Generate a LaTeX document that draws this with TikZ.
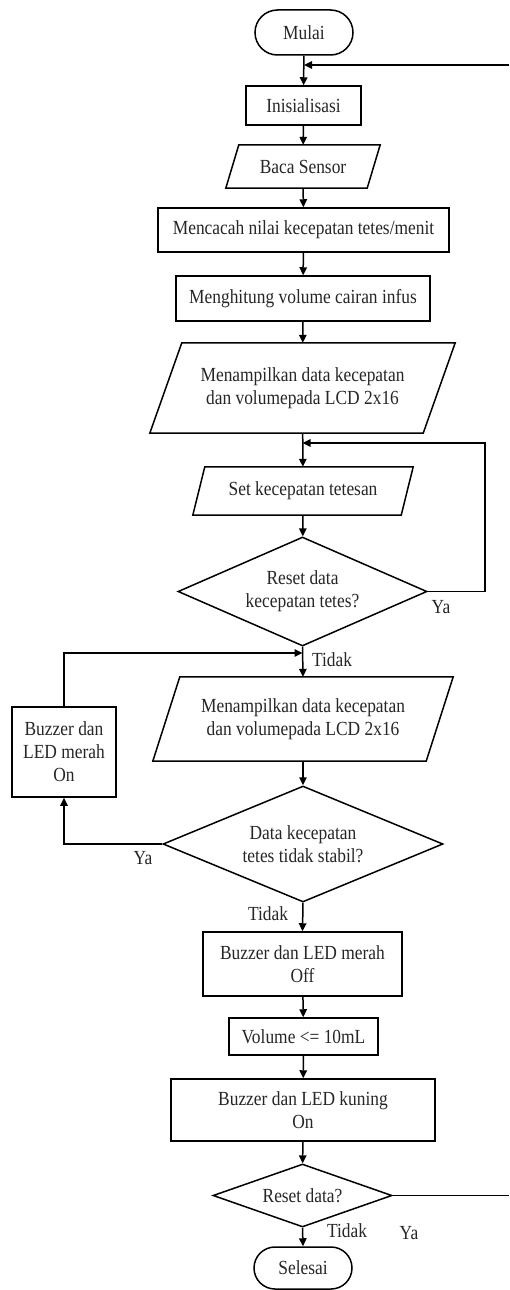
\documentclass[tikz,border=0pt]{standalone}
\usepackage{fontspec}
\setmainfont{Liberation Serif}[FakeStretch=0.87]
\usetikzlibrary{shapes.geometric,shapes.misc,arrows.meta,calc}
\newcommand\myio[7]{%
  \node[txt, minimum width={#4-#6}, minimum height=#5] (#1) at (#2,#3) {#7};
  \draw[shp] ([xshift=#6/2]#1.north west) -- ([xshift=#6/2]#1.north east)
    -- ([xshift=-#6/2]#1.south east) -- ([xshift=-#6/2]#1.south west) -- cycle;}
\begin{document}
\begin{tikzpicture}[x=1pt,y=-1pt,
  txt/.style={rectangle, inner sep=0pt, align=center, text=black!85,
    font=\fontsize{20}{23}\selectfont},
  shp/.style={line width=1.5pt, line join=miter},
  procbox/.style={txt, draw, line width=1.5pt},
  term/.style={txt, draw, line width=1.5pt, rounded rectangle},
  decide/.style={txt, draw, line width=1.5pt, diamond, inner sep=0pt},
  lbl/.style={txt},
  line/.style={line width=1.5pt},
  arr/.style={line width=1.5pt, -{Triangle[length=8pt,width=7.5pt]}}]
\useasboundingbox (0,0) rectangle (509,1290);

\node[term, minimum width=98, minimum height=45] (mulai) at (304,32.5) {Mulai};
\node[procbox, minimum width=115, minimum height=39] (init) at (303.5,105.5) {Inisialisasi};
\myio{baca}{303}{166.5}{154}{43}{13}{Baca Sensor}
\node[procbox, minimum width=291, minimum height=44] (cacah) at (303.5,230) {Mencacah nilai kecepatan tetes/menit};
\node[procbox, minimum width=254, minimum height=45] (hitung) at (303,298.5) {Menghitung volume cairan infus};
\myio{tampil1}{302.5}{388}{305}{90}{32}{Menampilkan data kecepatan\\dan volumepada LCD 2x16}
\myio{set}{303}{491}{220}{48}{12}{Set kecepatan tetesan}
\node[decide, minimum width=249, minimum height=109, aspect=2.28] (d1) at (302.5,591.5) {Reset data\\kecepatan tetes?};
\myio{tampil2}{303}{719}{300}{84}{27}{Menampilkan data kecepatan\\dan volumepada LCD 2x16}
\node[procbox, minimum width=104, minimum height=90] (merahon) at (64,752) {Buzzer dan\\LED merah\\On};
\node[decide, minimum width=280, minimum height=116, aspect=2.41] (d2) at (303,844) {Data kecepatan\\tetes tidak stabil?};
\node[procbox, minimum width=199, minimum height=64] (merahoff) at (302.5,964) {Buzzer dan LED merah\\Off};
\node[procbox, minimum width=149, minimum height=37] (vol) at (303.5,1036.5) {Volume <= 10mL};
\node[procbox, minimum width=264, minimum height=62] (kuning) at (303,1110) {Buzzer dan LED kuning\\On};
\node[decide, minimum width=179, minimum height=63, aspect=2.84] (d3) at (302.5,1195.5) {Reset data?};
\node[term, minimum width=98, minimum height=42] (selesai) at (303,1268) {Selesai};

\node[lbl] (ya1) at (441,607) {Ya};
\node[lbl] (tidak1) at (332,660) {Tidak};
\node[lbl] (ya2) at (143,858) {Ya};
\node[lbl] (tidak2) at (268,914) {Tidak};
\node[lbl] (tidak3) at (347,1231) {Tidak};
\node[lbl] (ya3) at (409,1233) {Ya};

\coordinate (e2) at (509,65);
\coordinate (e1) at (509,1195.5);
\coordinate (r1) at (485,443);
\coordinate (l1) at (63,653);

\draw[arr] (mulai) -- (init);
\draw[arr] (e2) -- (e2 -| mulai.south);
\draw[arr] (init) -- (baca);
\draw[arr] (baca) -- (cacah);
\draw[arr] (cacah) -- (hitung);
\draw[arr] (hitung) -- (tampil1);
\draw[arr] (tampil1) -- (set);
\draw[arr] (set) -- (d1);
\draw[arr] (d1.east) -| (r1) -- (r1 -| tampil1.south);
\draw[arr] (d1.south) -- (tampil2.north);
\draw[arr] (merahon.north) |- (l1 -| d1.south);
\draw[arr] (tampil2) -- (d2);
\draw[arr] (d2.west) -| (merahon.south);
\draw[arr] (d2.south) -- (merahoff.north);
\draw[arr] (merahoff) -- (vol);
\draw[arr] (vol) -- (kuning);
\draw[arr] (kuning) -- (d3);
\draw[arr] (d3.south) -- (selesai.north);
\draw[line] (d3.east) -- (e1);
\end{tikzpicture}
\end{document}
